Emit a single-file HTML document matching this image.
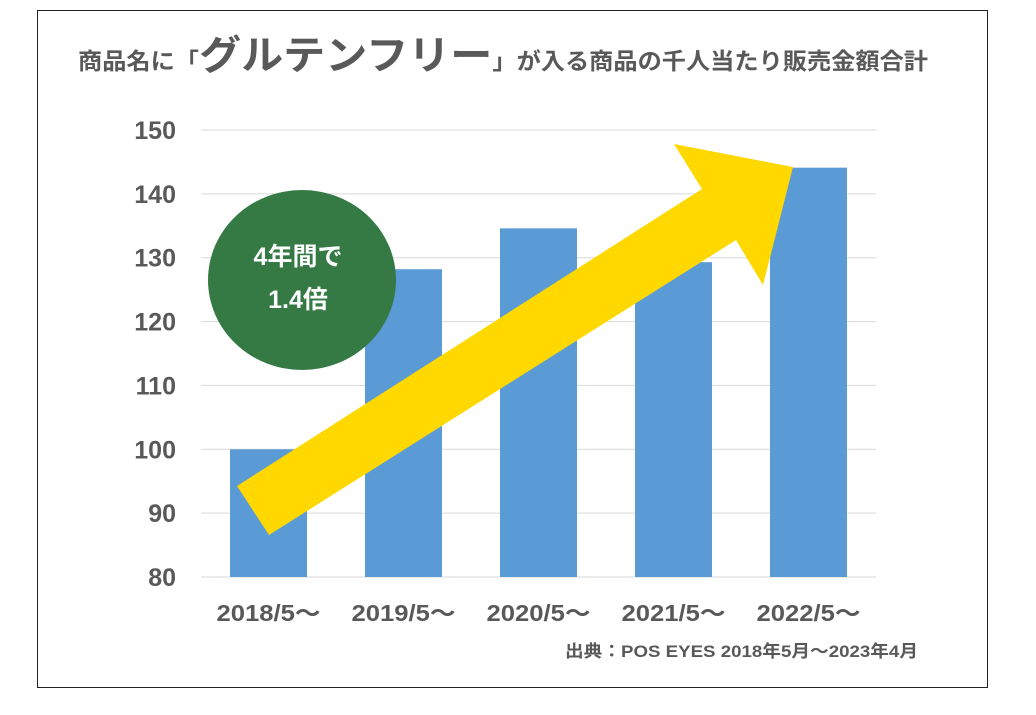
<!DOCTYPE html>
<html><head><meta charset="utf-8"><style>
body{margin:0;background:#fff;width:1036px;height:710px;overflow:hidden;font-family:"Liberation Sans","Noto Sans CJK JP",sans-serif}
</style></head><body>
<svg width="1036" height="710">
<rect x="37.5" y="10.5" width="950" height="677" fill="#fff" stroke="#222"/>
<text x="78" y="69" textLength="850" lengthAdjust="spacingAndGlyphs" fill="#595959" font-size="23" font-weight="bold" font-family="'Liberation Sans','Noto Sans CJK JP',sans-serif">商品名に「<tspan font-size="40">グルテンフリー</tspan>」が入る商品の千人当たり販売金額合計</text>
<g id="grid"></g><g id="bars"></g><g id="ylab"></g><g id="xlab"></g>
<polygon points="237,486 702,189 674,144 793,167 763,285 736,240 269,535" fill="#FFD800"/>
<ellipse cx="302" cy="280" rx="94" ry="90" fill="#357A45"/>
<text x="298" y="265" text-anchor="middle" fill="#fff" font-size="25" font-weight="bold">4年間で</text>
<text x="298" y="308" text-anchor="middle" fill="#fff" font-size="25" font-weight="bold">1.4倍</text>
<text x="918" y="657" text-anchor="end" textLength="353" lengthAdjust="spacingAndGlyphs" fill="#595959" font-size="17" font-weight="bold">出典：POS EYES 2018年5月～2023年4月</text>
</svg>
<script>
const categories=["2018/5～","2019/5～","2020/5～","2021/5～","2022/5～"];
const values=[100,128.2,134.6,129.3,144.1];
const ticks=[80,90,100,110,120,130,140,150];
const NS="http://www.w3.org/2000/svg";
const x0=201,x1=876,yMin=80,yMax=150,yTop=130,yBot=577;
const y=v=>yBot-(v-yMin)/(yMax-yMin)*(yBot-yTop);
const band=(x1-x0)/categories.length,bw=77;
function mk(t,a,p){const e=document.createElementNS(NS,t);for(const k in a)e.setAttribute(k,a[k]);p.appendChild(e);return e;}
ticks.forEach(t=>{
 const l=mk('line',{x1:x0,x2:x1,y1:y(t),y2:y(t),stroke:'#d9d9d9','stroke-width':1},document.getElementById('grid'));
 
 
 const tx=mk('text',{x:176,y:y(t)+9,'text-anchor':'end',fill:'#595959','font-size':25,'font-weight':'bold'},document.getElementById('ylab'));
 tx.textContent=t;
 
 
});
categories.forEach((c,i)=>{
 const cx=x0+band*(i+0.5);
 const r=mk('rect',{x:cx-bw/2,y:y(values[i]),width:bw,height:yBot-y(values[i]),fill:'#5B9BD5'},document.getElementById('bars'));
 
 
 const tx=mk('text',{x:cx,y:621,'text-anchor':'middle',textLength:104,lengthAdjust:'spacingAndGlyphs',fill:'#595959','font-size':23,'font-weight':'bold'},document.getElementById('xlab'));
 tx.textContent=c;
 
 
});
</script>
</body></html>
